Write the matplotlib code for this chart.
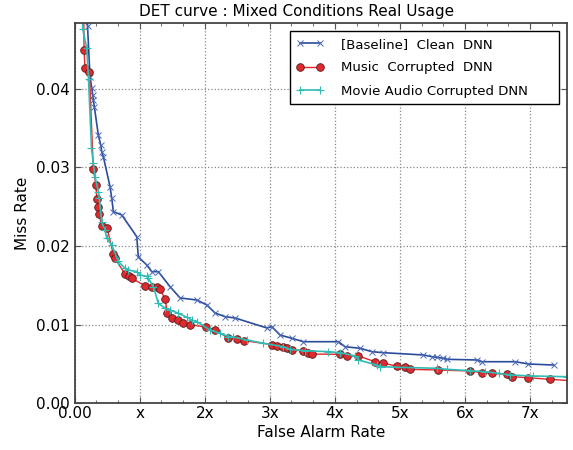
import matplotlib.pyplot as plt
from matplotlib.ticker import MultipleLocator

# false alarm rate in units of "x", miss rate as fraction
clean_far = [0.19, 0.197, 0.235, 0.262, 0.277, 0.286, 0.302, 0.363, 0.40, 0.415, 0.44,
             0.543, 0.569, 0.594, 0.723, 0.954, 0.978, 1.108, 1.185, 1.286, 1.466,
             1.62, 1.877, 2.031, 2.158, 2.312, 2.466, 2.954, 3.031, 3.158, 3.338,
             3.517, 4.055, 4.158, 4.389, 4.569, 4.748, 5.363, 5.492, 5.569, 5.671,
             5.723, 6.185, 6.262, 6.774, 6.978, 7.363]
clean_miss = [0.060, 0.0480, 0.04157, 0.04013, 0.03924, 0.0386, 0.03771, 0.03414,
              0.03287, 0.03202, 0.03138, 0.02756, 0.02612, 0.02437, 0.02395, 0.02119,
              0.0186, 0.01758, 0.01673, 0.01673, 0.01482, 0.01338, 0.01312, 0.01249,
              0.01147, 0.0110, 0.01083, 0.00956, 0.00972, 0.00866, 0.00824, 0.00781,
              0.00781, 0.00717, 0.00697, 0.00654, 0.00641, 0.00612, 0.0059, 0.00582,
              0.00569, 0.00557, 0.00548, 0.00526, 0.00526, 0.00497, 0.00484]

music_far = [0.13, 0.143, 0.158, 0.225, 0.286, 0.328, 0.338, 0.354, 0.377, 0.415, 0.497,
             0.594, 0.62, 0.774, 0.835, 0.882, 1.082, 1.194, 1.262, 1.312, 1.389,
             1.425, 1.492, 1.594, 1.658, 1.774, 2.012, 2.158, 2.363, 2.492, 2.605,
             3.031, 3.112, 3.197, 3.266, 3.338, 3.517, 3.594, 3.646, 4.082, 4.185,
             4.363, 4.62, 4.748, 4.954, 5.082, 5.158, 5.594, 6.082, 6.262, 6.415,
             6.646, 6.732, 6.978, 7.302, 7.7]
music_miss = [0.060, 0.04497, 0.04264, 0.04221, 0.02977, 0.02771, 0.02595, 0.02493,
              0.02401, 0.02249, 0.02233, 0.01892, 0.01843, 0.01641, 0.01618, 0.01586,
              0.01494, 0.01482, 0.01474, 0.01452, 0.01325, 0.0115, 0.01087, 0.01054,
              0.01023, 0.00998, 0.00968, 0.00936, 0.00824, 0.00812, 0.00794, 0.00745,
              0.00726, 0.0071, 0.00697, 0.00675, 0.00666, 0.00641, 0.00624, 0.0062,
              0.00599, 0.00599, 0.00526, 0.00506, 0.00471, 0.00462, 0.00429, 0.0042,
              0.00408, 0.00386, 0.00378, 0.00366, 0.00335, 0.00322, 0.00302, 0.0028]

movie_far = [0.11, 0.123, 0.185, 0.212, 0.258, 0.286, 0.312, 0.363, 0.378, 0.415, 0.466,
             0.492, 0.569, 0.671, 0.774, 0.825, 0.954, 1.005, 1.108, 1.132, 1.209,
             1.286, 1.389, 1.466, 1.594, 1.723, 1.80, 1.877, 2.082, 2.235, 2.363,
             2.44, 2.646, 2.902, 3.209, 3.312, 3.543, 3.902, 4.082, 4.312, 4.363,
             4.646, 4.697, 5.569, 5.723, 6.082, 6.312, 6.517, 6.697, 7.055, 7.569, 7.7]
movie_miss = [0.060, 0.04765, 0.04519, 0.04128, 0.03249, 0.03054, 0.02883, 0.02692,
              0.02608, 0.0231, 0.02204, 0.02098, 0.02013, 0.01803, 0.01716, 0.01694,
              0.01673, 0.01631, 0.01612, 0.01589, 0.01482, 0.0127, 0.01206, 0.01185,
              0.01143, 0.01092, 0.01057, 0.01036, 0.0093, 0.00888, 0.00847, 0.00841,
              0.00803, 0.00761, 0.00717, 0.00684, 0.00666, 0.00654, 0.00641, 0.00599,
              0.00548, 0.00484, 0.00462, 0.00442, 0.00429, 0.00412, 0.00399, 0.00378,
              0.00357, 0.00344, 0.00335, 0.0033]

xtick_labels = ['0.00', 'x', '2x', '3x', '4x', '5x', '6x', '7x']

plt.rcParams['font.family'] = 'DejaVu Sans'
fig = plt.figure(figsize=(5.73, 4.5), dpi=100)
ax = fig.add_axes([0.1304, 0.1044, 0.8591, 0.8445])

ax.plot(clean_far, clean_miss, color='#2b4c9b', lw=1.2, marker='x', ms=5, mew=0.7,
        mec='#4a6ab8', label='[Baseline]  Clean  DNN')
ax.plot(music_far, music_miss, color='#e8262a', lw=1.0, marker='o', ms=5.5,
        mfc='#de2a2e', mec='#5a1a1a', mew=0.6, label='Music  Corrupted  DNN')
ax.plot(movie_far, movie_miss, color='#2fbcb4', lw=1.2, marker='+', ms=5.5, mew=0.8,
        label='Movie Audio Corrupted DNN')

ax.set_xlim(0, 7.57)
ax.set_ylim(0, 0.0484)
ax.set_xticks(range(8))
ax.set_xticklabels(xtick_labels)
ax.xaxis.set_minor_locator(MultipleLocator(1 / 3))
ax.set_yticks([0, 0.01, 0.02, 0.03, 0.04])
ax.set_yticklabels(['0.00', '0.01', '0.02', '0.03', '0.04'])
ax.tick_params(which='both', direction='in', top=True, right=True, labelsize=11,
               color='#555555')
ax.tick_params(which='major', length=4)
ax.tick_params(which='minor', length=2)
ax.tick_params(axis='x', pad=2)
for s in ax.spines.values():
    s.set_color('#444444')
    s.set_linewidth(1.3)

ax.grid(True, linestyle=':', color='#888888', linewidth=0.9)

ax.set_title('DET curve : Mixed Conditions Real Usage', fontsize=11, pad=5, x=0.45)
ax.set_xlabel('False Alarm Rate', fontsize=11, labelpad=3)
ax.set_ylabel('Miss Rate', fontsize=11, labelpad=4)

leg = ax.legend(loc='upper left', bbox_to_anchor=(0.437, 0.789, 0.547, 0.19),
                mode='expand', borderaxespad=0, fontsize=9.5, numpoints=2,
                fancybox=False, framealpha=1, edgecolor='black', borderpad=0.5,
                labelspacing=0.8, handlelength=2.1, handletextpad=1.3)
leg.get_frame().set_linewidth(1.0)

plt.savefig('out.png', dpi=100)
plt.close()
